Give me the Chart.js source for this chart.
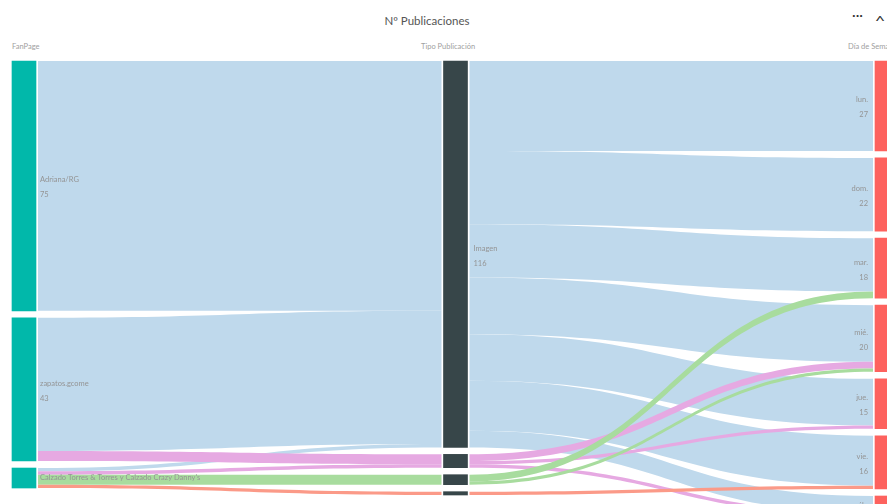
<!DOCTYPE html>
<html lang="es">
<head>
<meta charset="utf-8">
<title>Nº Publicaciones</title>
<script src="https://cdn.jsdelivr.net/npm/chart.js@4.4.1/dist/chart.umd.min.js"></script>
<style>
  html, body { margin: 0; padding: 0; background: #fff; }
  .wrap { position: relative; width: 887px; height: 504px; overflow: hidden; font-family: Lato, 'Open Sans', sans-serif; }
  .title { position: absolute; top: 14px; left: 327px; width: 200px; text-align: center; font-size: 11.5px; color: #555; }
  .hdr { position: absolute; top: 42px; font-size: 7.5px; color: #a0a0a0; white-space: nowrap; }
  .dots { position: absolute; top: 6px; left: 852px; font-size: 14px; color: #333; }
  .chev { position: absolute; top: 12px; left: 876px; font-size: 14px; color: #333; transform: scaleX(1.3); }
  .chart-box { position: absolute; left: 0; top: 0; width: 887px; height: 504px; }
</style>
</head>
<body>
<div class="wrap">
  <div class="title">Nº Publicaciones</div>
  <div class="hdr" style="left:12px">FanPage</div>
  <div class="hdr" style="left:421px">Tipo Publicación</div>
  <div class="hdr" style="left:848px">Día de Semana</div>
  <div class="dots">···</div>
  <div class="chev">^</div>
  <div class="chart-box"><canvas id="sankey"></canvas></div>
</div>
<script>
// columns of the sankey
const columns = ['FanPage', 'Tipo Publicación', 'Día de Semana'];
const fanPages = ['Adriana/RG', 'zapatos.gcome', "Calzado Torres & Torres y Calzado Crazy Danny's"];
const tipos = ['Imagen', 'Video', 'Texto', 'Enlace'];
const dias = ['lun.', 'dom.', 'mar.', 'mié.', 'jue.', 'vie.', 'sáb.'];

// flows: rows = fanpage, cols = tipo
const fanToTipo = [
    [75, 0, 0, 0],
    [40, 3, 0, 0],
    [1, 1, 3, 1]
];
// flows: rows = tipo, cols = dia
const tipoToDia = [
    [27, 22, 16, 17, 14, 15, 5],
    [0, 0, 0, 2, 1, 0, 1],
    [0, 0, 2, 1, 0, 0, 0],
    [0, 0, 0, 0, 0, 1, 0]
];

const nodeColors = ['#01B8AA', '#374649', '#FD625E'];
const linkColors = ['#BFD9EC', '#E6A9E2', '#A8DC9E', '#FB9A88'];
const NODE_W = 24;
const PAD = 2.1; // gap between nodes, in units

const sum = a => a.reduce((s, v) => s + v, 0);
const fanVals = fanToTipo.map(sum);
const tipoVals = tipoToDia.map(sum);
const diaVals = dias.map((d, j) => sum(tipoToDia.map(r => r[j])));

function stack(values) {
    let y = 0;
    return values.map(v => { const s = y; y += v + PAD; return [s, s + v]; });
}
const fanPos = stack(fanVals);
const tipoPos = stack(tipoVals);
const diaPos = stack(diaVals);

// build links with their offsets inside each node
function buildLinks(matrix, srcPos, dstPos, col, colorBy) {
    const out = srcPos.map(() => 0), inn = dstPos.map(() => 0), res = [];
    matrix.forEach((row, i) => row.forEach((v, j) => {
        if (!v) return;
        res.push({ col, value: v, sy: srcPos[i][0] + out[i], ty: dstPos[j][0] + inn[j], color: linkColors[colorBy(i, j)], order: colorBy(i, j) });
        out[i] += v; inn[j] += v;
    }));
    return res;
}
const links = buildLinks(fanToTipo, fanPos, tipoPos, 0, (i, j) => j)
    .concat(buildLinks(tipoToDia, tipoPos, diaPos, 1, (i, j) => i))
    .sort((a, b) => a.order - b.order);

const nodeNames = [fanPages, tipos, dias];
const nodeValues = [fanVals, tipoVals, diaVals];
const nodePos = [fanPos, tipoPos, diaPos];
const rows = Math.max(fanPages.length, tipos.length, dias.length);

const datasets = [];
for (let r = 0; r < rows; r++) {
    datasets.push({
        data: nodePos.map(p => p[r] || null),
        backgroundColor: nodeColors,
        barThickness: NODE_W,
        grouped: false,
        clip: false
    });
}

const sankeyLinks = {
    id: 'sankeyLinks',
    beforeDatasetsDraw(chart) {
        const ctx = chart.ctx, x = chart.scales.x, y = chart.scales.y;
        ctx.save();
        links.forEach(l => {
            const x0 = x.getPixelForValue(l.col) + NODE_W / 2 + 2;
            const x1 = x.getPixelForValue(l.col + 1) - NODE_W / 2 - 2;
            const a0 = y.getPixelForValue(l.sy), a1 = y.getPixelForValue(l.sy + l.value);
            const b0 = y.getPixelForValue(l.ty), b1 = y.getPixelForValue(l.ty + l.value);
            const xm = (x0 + x1) / 2;
            ctx.beginPath();
            ctx.moveTo(x0, a0);
            ctx.bezierCurveTo(xm, a0, xm, b0, x1, b0);
            ctx.lineTo(x1, b1);
            ctx.bezierCurveTo(xm, b1, xm, a1, x0, a1);
            ctx.closePath();
            ctx.fillStyle = l.color;
            ctx.fill();
        });
        ctx.restore();
    },
    afterDatasetsDraw(chart) {
        const ctx = chart.ctx, x = chart.scales.x, y = chart.scales.y;
        ctx.save();
        ctx.font = '7.5px Lato, sans-serif';
        ctx.fillStyle = '#949494';
        ctx.textBaseline = 'middle';
        nodePos.forEach((col, c) => col.forEach((p, i) => {
            const top = y.getPixelForValue(p[0]), bot = y.getPixelForValue(p[1]);
            const h = bot - top, mid = (top + bot) / 2;
            if (h < 15) return;
            let lx;
            if (c === 2) { ctx.textAlign = 'right'; lx = x.getPixelForValue(c) - NODE_W / 2 - 7; }
            else { ctx.textAlign = 'left'; lx = x.getPixelForValue(c) + NODE_W / 2 + (c === 0 ? 4 : 6); }
            if (h < 30) {
                ctx.fillText(nodeNames[c][i], lx, mid);
            } else {
                ctx.fillText(nodeNames[c][i], lx, mid - 6);
                ctx.fillText(String(nodeValues[c][i]), lx, mid + 9);
            }
        }));
        ctx.restore();
    }
};

new Chart(document.getElementById('sankey').getContext('2d'), {
    type: 'bar',
    data: { labels: columns, datasets },
    options: {
        responsive: true,
        maintainAspectRatio: false,
        animation: false,
        layout: { padding: { top: 61, left: 24, right: 0, bottom: 0 } },
        plugins: { legend: { display: false }, tooltip: { enabled: false } },
        scales: {
            x: { type: 'category', offset: false, display: false },
            y: { type: 'linear', min: 0, max: 133, reverse: true, display: false }
        }
    },
    plugins: [sankeyLinks]
});
</script>
</body>
</html>
